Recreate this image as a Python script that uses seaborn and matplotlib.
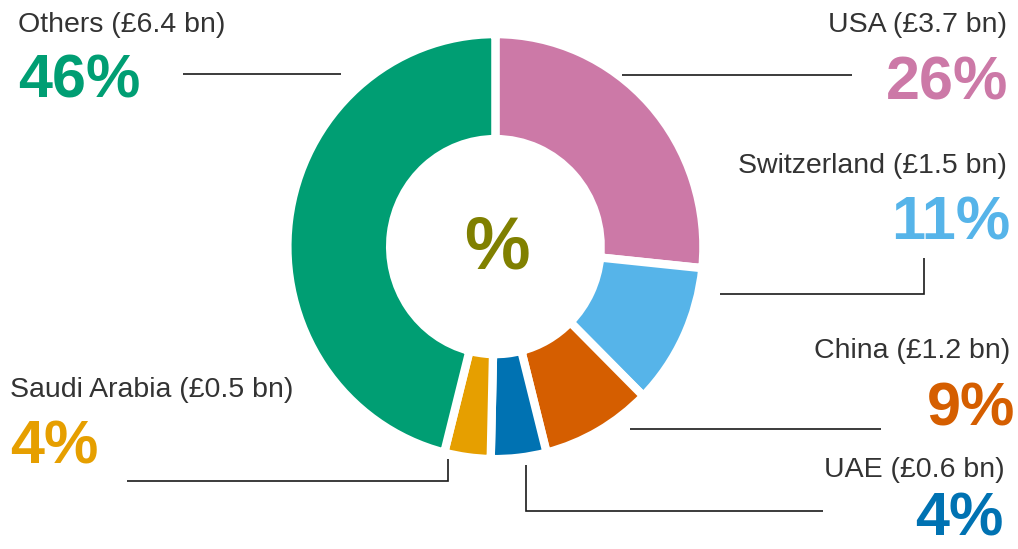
import matplotlib
matplotlib.use("Agg")
import matplotlib.pyplot as plt
import seaborn as sns

sns.set_theme(style="white")
plt.rcParams["font.family"] = ["Liberation Sans", "DejaVu Sans"]

# data
countries = ["USA", "Switzerland", "China", "UAE", "Saudi Arabia", "Others"]
value_bn = [3.7, 1.5, 1.2, 0.6, 0.5, 6.4]
pct_labels = ["26%", "11%", "9%", "4%", "4%", "46%"]
colors = ["#CC79A7", "#56B4E9", "#D55E00", "#0072B2", "#E69F00", "#009E73"]

# layout (in image pixels; converted to pie units below)
W, H = 1018, 549
CX, CY = 495.4, 246.6
RX, RY = 208.0, 212.5   # pixels per pie unit (white edge eats ~3px)

label_layout = {
    # name label (x, baseline y, ha), pct (x, baseline y), leader polyline
    "USA": ((1007, 32, "right"), (1008, 99), [(622, 75), (852, 75)]),
    "Switzerland": ((1007, 173, "right"), (1010, 240), [(720, 294), (924, 294), (924, 258)]),
    "China": ((1010, 358, "right"), (1015, 425), [(630, 429), (881, 429)]),
    "UAE": ((1005, 477, "right"), (1004, 536), [(526, 465), (526, 511), (823, 511)]),
    "Saudi Arabia": ((10, 397, "left"), (10, 463), [(448, 459), (448, 481), (127, 481)]),
    "Others": ((18, 32, "left"), (18, 98), [(183, 74), (341, 74)]),
}


def to_data(xp, yp):
    return (xp - CX) / RX, (CY - yp) / RY


fig = plt.figure(figsize=(W / 100, H / 100), dpi=100)
ax = fig.add_axes([0, 0, 1, 1])

ax.pie(
    value_bn,
    colors=colors,
    startangle=90,
    counterclock=False,
    radius=1.0,
    wedgeprops=dict(width=0.494, edgecolor="white", linewidth=6),
)

ax.text(*to_data(CX + 2, CY + 2), "%", ha="center", va="center",
        fontsize=53, fontweight="bold", color="#808000")

for name, val, pct, col in zip(countries, value_bn, pct_labels, colors):
    (lx, ly, ha), (px, py), leader = label_layout[name]
    ax.text(*to_data(lx, ly), f"{name} (£{val} bn)", ha=ha, va="baseline",
            fontsize=20.5, color="#333333")
    ax.text(*to_data(px, py), pct, ha=ha, va="baseline",
            fontsize=44, fontweight="bold", color=col)
    pts = [to_data(x, y) for x, y in leader]
    ax.plot([p[0] for p in pts], [p[1] for p in pts], color="#1a1a1a",
            lw=1.2, solid_capstyle="butt", solid_joinstyle="miter")

x0, y0 = to_data(0, H)
x1, y1 = to_data(W, 0)
ax.set_xlim(x0, x1)
ax.set_ylim(y0, y1)
ax.set_aspect("auto")
ax.axis("off")

fig.savefig("out.png", dpi=100, facecolor="white")
